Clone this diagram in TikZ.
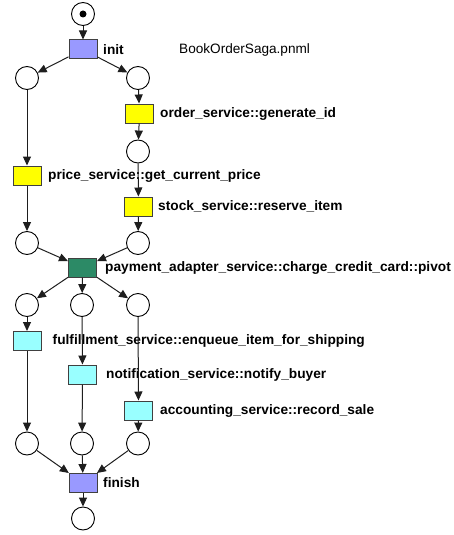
\documentclass[tikz,border=0pt]{standalone}
\usepackage{fontspec}
\setmainfont{Liberation Sans}
\usetikzlibrary{arrows.meta}
\definecolor{lav}{RGB}{153,153,255}
\definecolor{yel}{RGB}{255,255,0}
\definecolor{grn}{RGB}{44,138,102}
\definecolor{cya}{RGB}{153,255,255}
\definecolor{edge}{RGB}{30,30,30}
\tikzset{
  place/.style={circle,draw=black,line width=0.9pt,fill=white,minimum size=23pt,inner sep=0pt},
  trans/.style={rectangle,draw=edge!85,line width=1pt,minimum width=28pt,minimum height=19pt,inner sep=0pt},
  lbl/.style={anchor=west,inner sep=0pt,font=\fontsize{13.7pt}{16pt}\selectfont\bfseries},
  arc/.style={draw=edge,line width=1pt,-{Triangle[length=9pt,width=8pt]}},
  tok/.style={circle,fill=black,minimum size=7pt,inner sep=0pt}
}
\begin{document}
\begin{tikzpicture}[x=1pt,y=-1pt]
\useasboundingbox (0,0) rectangle (454,535);
% labels
\node[anchor=west,inner sep=0pt,font=\fontsize{13.6pt}{16pt}\selectfont] (title) at (179,49.5) {BookOrderSaga.pnml};
\node[lbl] (linit) at (103,49.5) {init};
\node[lbl] (lorder) at (160,113.5) {order\_service::generate\_id};
\node[lbl] (lprice) at (48,175.5) {price\_service::get\_current\_price};
\node[lbl] (lstock) at (158,206.5) {stock\_service::reserve\_item};
\node[lbl] (lpay) at (105,267.5) {payment\_adapter\_service::charge\_credit\_card::pivot};
\node[lbl] (lful) at (52.5,341) {fulfillment\_service::enqueue\_item\_for\_shipping};
\node[lbl] (lnot) at (106,374.5) {notification\_service::notify\_buyer};
\node[lbl] (lacc) at (160,410.5) {accounting\_service::record\_sale};
\node[lbl] (lfin) at (103,483) {finish};
% places
\node[place] (p0) at (83,14) {};
\node[tok] (tk) at (83,14) {};
\node[place] (p1) at (27,78) {};
\node[place] (p2) at (138,78) {};
\node[place] (p3) at (138,151.5) {};
\node[place] (p4) at (27,243) {};
\node[place] (p5) at (138,243) {};
\node[place] (p6) at (27,305) {};
\node[place] (p7) at (82,305) {};
\node[place] (p8) at (138,305) {};
\node[place] (p9) at (27,443.5) {};
\node[place] (p10) at (82,443.5) {};
\node[place] (p11) at (138,443.5) {};
\node[place] (p12) at (83,518.5) {};
% transitions
\node[trans,fill=lav] (tinit) at (83,49.5) {};
\node[trans,fill=yel] (torder) at (139.5,113.5) {};
\node[trans,fill=yel] (tprice) at (27,175.5) {};
\node[trans,fill=yel] (tstock) at (138.5,206.5) {};
\node[trans,fill=grn] (tpay) at (82.5,267.5) {};
\node[trans,fill=cya] (tful) at (27,341) {};
\node[trans,fill=cya] (tnot) at (82.5,374.5) {};
\node[trans,fill=cya] (tacc) at (138.5,410.5) {};
\node[trans,fill=lav] (tfin) at (83,483) {};
% arcs
\draw[arc] (p0) -- (tinit);
\draw[arc] (tinit) -- (p1);
\draw[arc] (tinit) -- (p2);
\draw[arc] (p2) -- (torder);
\draw[arc] (torder) -- (p3);
\draw[arc] (p1) -- (tprice);
\draw[arc] (p3) -- (tstock);
\draw[arc] (tprice) -- (p4);
\draw[arc] (tstock) -- (p5);
\draw[arc] (p4) -- (tpay);
\draw[arc] (p5) -- (tpay);
\draw[arc] (tpay) -- (p6);
\draw[arc] (tpay) -- (p7);
\draw[arc] (tpay) -- (p8);
\draw[arc] (p6) -- (tful);
\draw[arc] (p7) -- (tnot);
\draw[arc] (p8) -- (tacc);
\draw[arc] (tful) -- (p9);
\draw[arc] (tnot) -- (p10);
\draw[arc] (tacc) -- (p11);
\draw[arc] (p9) -- (tfin);
\draw[arc] (p10) -- (tfin);
\draw[arc] (p11) -- (tfin);
\draw[arc] (tfin) -- (p12);
\end{tikzpicture}
\end{document}
